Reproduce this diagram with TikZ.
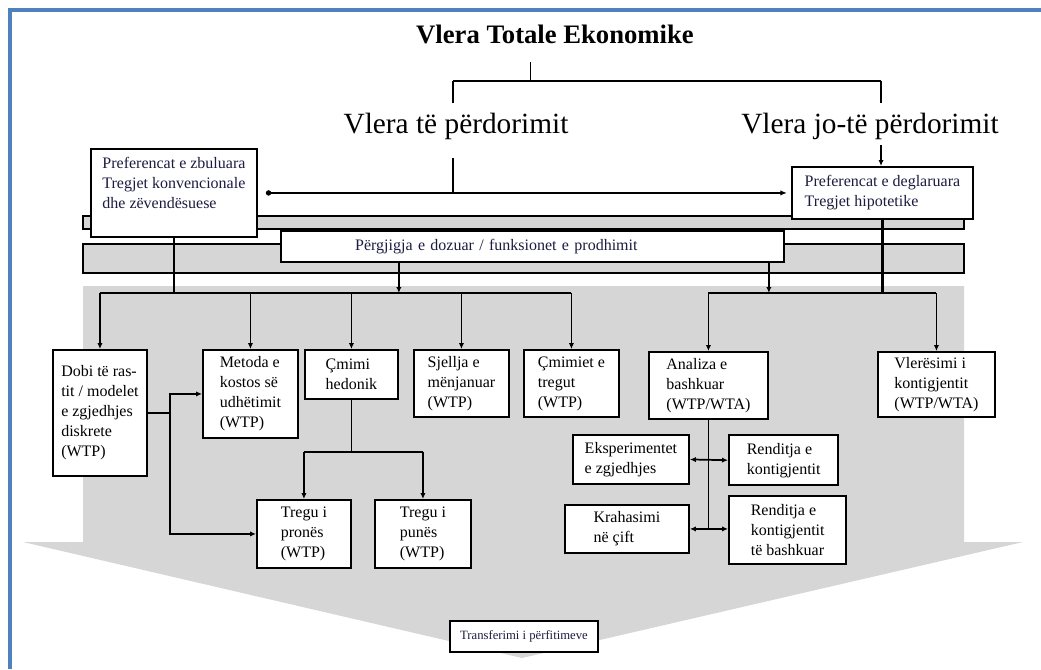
\documentclass[tikz,border=0pt]{standalone}
\usepackage{fontspec}
\setmainfont{Liberation Serif}
\usepackage{xcolor}
\usetikzlibrary{arrows.meta}

\definecolor{framecol}{RGB}{79,129,189}
\definecolor{bandgray}{RGB}{214,214,214}
\definecolor{navytext}{RGB}{28,28,64}

\tikzset{
  box/.style={draw, fill=white, line width=1.4pt, anchor=north west, align=left, inner sep=0pt, font=\fontsize{12}{15}\selectfont},
  conn/.style={line width=1.3pt},
  >={Latex[length=4.5pt,width=4pt]}
}

\begin{document}
\begin{tikzpicture}[x=0.75pt,y=0.75pt,yscale=-1,xscale=1]
\useasboundingbox (0,0) rectangle (1041,669);

%Shape: Frame
\draw [framecol, line width=3pt] (9.5,669) -- (9.5,9.5) -- (1041,9.5) ;

%Shape: Big arrow
\fill [bandgray] (83,286) -- (964,286) -- (964,542) -- (1023,542) -- (522,658) -- (23,542) -- (83,542) -- cycle ;
%Shape: Rectangle
\draw [fill=bandgray, line width=1.5pt] (83,216) rectangle (964,229) ;
%Shape: Rectangle
\draw [fill=bandgray, line width=1.5pt] (83,244) rectangle (964,273) ;

% Text Node
\node [anchor=base, font=\fontsize{20}{24}\selectfont\bfseries] (title) at (555,43) {Vlera Totale Ekonomike};
% Text Node
\node [anchor=base, font=\fontsize{22}{26}\selectfont] (use) at (456,133) {Vlera të përdorimit};
% Text Node
\node [anchor=base, font=\fontsize{22}{26}\selectfont] (nonuse) at (870,133) {Vlera jo-të përdorimit};

% Boxes, upper part
\node [box, text=navytext, minimum width=124.5pt, minimum height=66pt] (revpref) at (90,148) {Preferencat e zbuluara\\Tregjet konvencionale\\dhe zëvendësuese\\\mbox{}};
\node [box, text=navytext, minimum width=135.75pt, minimum height=39pt] (statpref) at (791,166) {Preferencat e deglaruara\\Tregjet hipotetike};
\node [box, text=navytext, text width=266.25pt, inner xsep=55.5pt, minimum height=23.25pt, line width=1.8pt] (dose) at (280,230) {Përgjigja e dozuar / funksionet e prodhimit};

% Boxes, lower part
\node [box, minimum width=70.5pt, minimum height=94.5pt] (dobi) at (52,349) {Dobi të ras-\\tit / modelet\\e zgjedhjes\\diskrete\\(WTP)};
\node [box, minimum width=71.25pt, minimum height=66pt] (metoda) at (202,349) {Metoda e\\kostos së\\udhëtimit\\(WTP)};
\node [box, minimum width=69.75pt, minimum height=36.75pt] (hedonik) at (304,349) {Çmimi\\hedonik};
\node [box, minimum width=71.25pt, minimum height=50.25pt] (sjellja) at (413,349) {Sjellja e\\mënjanuar\\(WTP)};
\node [box, minimum width=71.25pt, minimum height=50.25pt] (tregut) at (523,349) {Çmimiet e\\tregut\\(WTP)};
\node [box, minimum width=89.25pt, minimum height=50.25pt] (analiza) at (648,351) {Analiza e\\bashkuar\\(WTP/WTA)};
\node [box, minimum width=87.75pt, minimum height=48.75pt] (vleresimi) at (877,351) {Vlerësimi i\\kontigjentit\\(WTP/WTA)};
\node [box, minimum width=70.5pt, minimum height=51pt] (prones) at (256,499) {Tregu i\\pronës\\(WTP)};
\node [box, minimum width=72pt, minimum height=51pt] (punes) at (374,499) {Tregu i\\punës\\(WTP)};
\node [box, minimum width=87pt, minimum height=36.75pt] (eksper) at (572,434) {Eksperimentet\\e zgjedhjes};
\node [box, minimum width=81.75pt, minimum height=37.5pt, line width=1.8pt] (rendkont) at (728,434) {Renditja e\\kontigjentit};
\node [box, minimum width=93pt, minimum height=36pt] (krahas) at (564,504) {Krahasimi\\në çift};
\node [box, minimum width=87.75pt, minimum height=51pt, line width=1.8pt] (rendbash) at (728,495) {Renditja e\\kontigjentit\\të bashkuar};
\node [box, text=navytext, minimum width=111pt, minimum height=23.25pt, font=\fontsize{9.5}{11}\selectfont] (transf) at (449,620) {Transferimi i përfitimeve};

% Bracket under the title
\coordinate (tick) at (530,62);
\coordinate (brM) at (530,81);
\coordinate (brL) at (453,103);
\coordinate (brR) at (881,103);
\draw [line width=0.6pt] (tick) -- (brM) ;
\draw [line width=1pt] (brL |- brM) -- (brR |- brM) ;
\draw [line width=2pt] (brL) -- (brL |- brM) ;
\draw [line width=2pt] (brR) -- (brR |- brM) ;

% Use / non-use links
\coordinate (usedrop) at (453,158);
\coordinate (nudrop) at (881,145);
\draw [line width=2pt] (usedrop) -- (usedrop |- revpref.east) ;
\draw [line width=1pt, {Circle[length=4pt]}-{Latex[length=5pt,width=4pt]}] ([xshift=6pt]revpref.east) -- ([xshift=-3pt]statpref.west) ;
\draw [line width=2pt, ->] (nudrop) -- (nudrop |- statpref.north) ;

% Feeds into the bus
\coordinate (bus) at (0,293);
\draw [conn] (revpref.south) -- (revpref.south |- bus) ;
\draw [conn, ->] (dose.south -| hedonik.east) -- (hedonik.east |- bus) ;
\draw [conn, ->] (dose.south -| analiza.east) -- (analiza.east |- bus) ;
\draw [line width=2pt] (statpref.south) -- (statpref.south |- bus) ;
\draw [conn] (dobi.north |- bus) -- (tregut.north |- bus) ;
\draw [conn] (analiza.north |- bus) -- (vleresimi.north |- bus) ;
\foreach \n in {dobi,metoda,hedonik,sjellja,tregut,analiza,vleresimi}
  \draw [conn, ->] (\n.north |- bus) -- (\n.north) ;

% Lower links
\draw [conn] (dobi.east) -- ++(22,0) coordinate (dj) ;
\draw [conn, ->] (dj) |- (metoda.west) ;
\draw [conn, ->] (dj) |- (prones.west) ;
\draw [conn] (hedonik.south) -- ++(0,52) coordinate (hj) ;
\draw [conn] (prones.north |- hj) -- (punes.north |- hj) ;
\draw [conn, ->] (prones.north |- hj) -- (prones.north) ;
\draw [conn, ->] (punes.north |- hj) -- (punes.north) ;
\draw [conn] (analiza.south) -- (analiza.south |- krahas.east) ;
\draw [conn, <->] (eksper.east) -- (rendkont.west) ;
\draw [conn, <->] (krahas.east) -- (krahas.east -| rendbash.west) ;

\end{tikzpicture}
\end{document}
